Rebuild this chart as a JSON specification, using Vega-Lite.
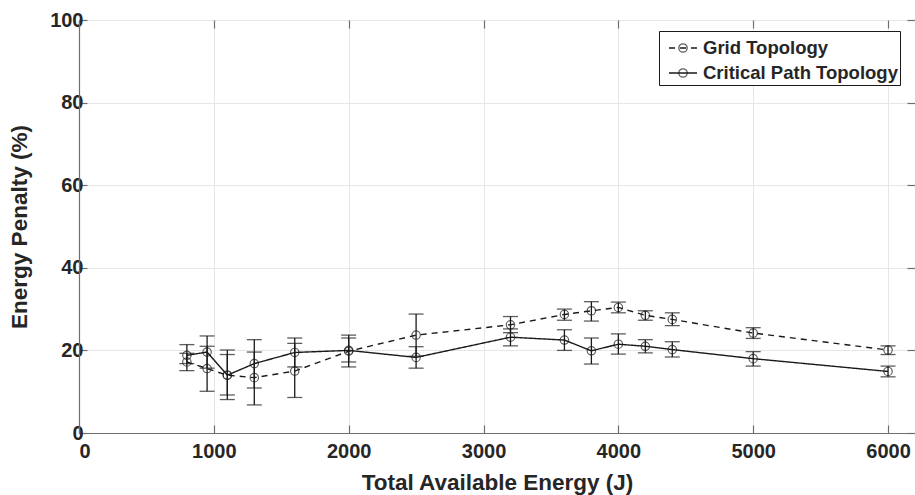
{
  "$schema": "https://vega.github.io/schema/vega-lite/v6.json",
  "width": 836,
  "height": 413,
  "autosize": {"type": "none"},
  "padding": {"left": 79, "top": 20, "right": 0, "bottom": 62},
  "background": "white",
  "config": {
    "view": {"stroke": "black", "strokeWidth": 1},
    "axis": {
      "labelFont": "Liberation Sans", "labelFontWeight": "bold", "labelFontSize": 20, "labelColor": "#262626",
      "titleFont": "Liberation Sans", "titleFontWeight": "bold", "titleFontSize": 22.5, "titleColor": "#262626",
      "gridColor": "#e6e6e6", "gridOpacity": 1, "domainColor": "#6e6e6e", "tickColor": "#6e6e6e",
      "tickSize": -8, "tickWidth": 1.2, "domainWidth": 1.2
    },
    "legend": {
      "labelFont": "Liberation Sans", "labelFontWeight": "bold", "labelFontSize": 18.5, "labelColor": "#262626"
    }
  },
  "data": {"values": [
    {"series": "Grid Topology", "x": 800, "y": 17.2, "lo": 15.1, "hi": 19.3},
    {"series": "Grid Topology", "x": 950, "y": 15.6, "lo": 10.1, "hi": 21.0},
    {"series": "Grid Topology", "x": 1100, "y": 14.0, "lo": 9.2, "hi": 19.0},
    {"series": "Grid Topology", "x": 1300, "y": 13.4, "lo": 6.8, "hi": 19.6},
    {"series": "Grid Topology", "x": 1600, "y": 15.0, "lo": 8.6, "hi": 21.7},
    {"series": "Grid Topology", "x": 2000, "y": 19.8, "lo": 16.0, "hi": 23.7},
    {"series": "Grid Topology", "x": 2500, "y": 23.7, "lo": 18.6, "hi": 28.8},
    {"series": "Grid Topology", "x": 3200, "y": 26.2, "lo": 24.3, "hi": 28.2},
    {"series": "Grid Topology", "x": 3600, "y": 28.7, "lo": 27.3, "hi": 30.0},
    {"series": "Grid Topology", "x": 3800, "y": 29.6, "lo": 27.1, "hi": 31.8},
    {"series": "Grid Topology", "x": 4000, "y": 30.4, "lo": 29.1, "hi": 31.7},
    {"series": "Grid Topology", "x": 4200, "y": 28.5, "lo": 27.3, "hi": 29.6},
    {"series": "Grid Topology", "x": 4400, "y": 27.5, "lo": 26.0, "hi": 29.1},
    {"series": "Grid Topology", "x": 5000, "y": 24.2, "lo": 22.9, "hi": 25.5},
    {"series": "Grid Topology", "x": 6000, "y": 20.1, "lo": 19.0, "hi": 21.1},
    {"series": "Critical Path Topology", "x": 800, "y": 18.8, "lo": 16.8, "hi": 21.4},
    {"series": "Critical Path Topology", "x": 950, "y": 19.6, "lo": 15.7, "hi": 23.5},
    {"series": "Critical Path Topology", "x": 1100, "y": 14.0, "lo": 8.1, "hi": 20.1},
    {"series": "Critical Path Topology", "x": 1300, "y": 16.8, "lo": 10.9, "hi": 22.6},
    {"series": "Critical Path Topology", "x": 1600, "y": 19.5, "lo": 16.0, "hi": 23.0},
    {"series": "Critical Path Topology", "x": 2000, "y": 20.0, "lo": 17.2, "hi": 23.0},
    {"series": "Critical Path Topology", "x": 2500, "y": 18.3, "lo": 15.7, "hi": 20.9},
    {"series": "Critical Path Topology", "x": 3200, "y": 23.2, "lo": 21.1, "hi": 25.2},
    {"series": "Critical Path Topology", "x": 3600, "y": 22.5, "lo": 20.0, "hi": 25.0},
    {"series": "Critical Path Topology", "x": 3800, "y": 19.9, "lo": 16.7, "hi": 23.0},
    {"series": "Critical Path Topology", "x": 4000, "y": 21.5, "lo": 19.1, "hi": 24.0},
    {"series": "Critical Path Topology", "x": 4200, "y": 21.0, "lo": 19.4, "hi": 22.6},
    {"series": "Critical Path Topology", "x": 4400, "y": 20.2, "lo": 18.4, "hi": 22.1},
    {"series": "Critical Path Topology", "x": 5000, "y": 18.0, "lo": 16.2, "hi": 19.7},
    {"series": "Critical Path Topology", "x": 6000, "y": 14.9, "lo": 13.6, "hi": 16.2}
  ]},
  "resolve": {"axis": {"x": "independent", "y": "independent"}},
  "layer": [
    {
      "mark": {"type": "rule", "color": "#1a1a1a", "strokeWidth": 1.3},
      "encoding": {
        "x": {"field": "x", "type": "quantitative", "scale": {"domain": [0, 6200], "nice": false, "zero": false},
          "axis": {"orient": "bottom", "values": [0, 1000, 2000, 3000, 4000, 5000, 6000], "format": "d", "labelPadding": 16, "title": "Total Available Energy (J)", "titlePadding": 10, "grid": true}},
        "y": {"field": "lo", "type": "quantitative", "scale": {"domain": [0, 100], "nice": false},
          "axis": {"orient": "left", "values": [0, 20, 40, 60, 80, 100], "labelPadding": 4, "title": "Energy Penalty (%)", "titlePadding": 18, "grid": true}},
        "y2": {"field": "hi"},
        "detail": {"field": "series"}
      }
    },
    {
      "mark": {"type": "tick", "orient": "horizontal", "color": "#1a1a1a", "size": 15, "thickness": 1.3},
      "encoding": {
        "x": {"field": "x", "type": "quantitative", "axis": {"orient": "top", "values": [0, 1000, 2000, 3000, 4000, 5000, 6000], "labels": false, "title": null, "grid": false, "domain": false}},
        "y": {"field": "lo", "type": "quantitative", "axis": {"orient": "right", "values": [0, 20, 40, 60, 80, 100], "labels": false, "title": null, "grid": false, "domain": false}}
      }
    },
    {
      "mark": {"type": "tick", "orient": "horizontal", "color": "#1a1a1a", "size": 15, "thickness": 1.3},
      "encoding": {
        "x": {"field": "x", "type": "quantitative", "axis": null},
        "y": {"field": "hi", "type": "quantitative", "axis": null}
      }
    },
    {
      "mark": {"type": "line", "color": "#1a1a1a", "strokeWidth": 1.4},
      "encoding": {
        "x": {"field": "x", "type": "quantitative", "axis": null},
        "y": {"field": "y", "type": "quantitative", "axis": null},
        "strokeDash": {"field": "series", "type": "nominal", "sort": "descending",
          "scale": {"range": [[6, 5], [1, 0]]},
          "legend": {"title": null, "orient": "none", "legendX": 580, "legendY": 11, "zindex": 1,
            "symbolType": "stroke",
            "symbolSize": 784, "symbolStrokeColor": "#1a1a1a", "symbolStrokeWidth": 1.3, "symbolOffset": 7,
            "rowPadding": -4, "labelOffset": 5, "padding": 2, "strokeColor": "#1a1a1a", "fillColor": "white",
            "labelLimit": 400}}
      }
    },
    {
      "mark": {"type": "point", "filled": false, "size": 784, "color": "#1a1a1a", "strokeWidth": 1.2},
      "encoding": {
        "x": {"field": "x", "type": "quantitative", "axis": null},
        "y": {"field": "y", "type": "quantitative", "axis": null},
        "shape": {"field": "series", "type": "nominal",
          "scale": {"domain": ["Grid Topology", "Critical Path Topology"], "range": ["M-0.3,0A0.3,0.3 0 1 1 0.3,0A0.3,0.3 0 1 1 -0.3,0", "M-0.3,0A0.3,0.3 0 1 1 0.3,0A0.3,0.3 0 1 1 -0.3,0"]},
          "legend": {"title": null, "orient": "none", "legendX": 580, "legendY": 11, "zindex": 2,
            "symbolSize": 784, "symbolStrokeColor": "#1a1a1a", "symbolStrokeWidth": 1.3, "symbolFillColor": "transparent",
            "symbolOffset": 7, "rowPadding": -4, "labelOffset": 5, "padding": 2, "labelExpr": "''",
            "labelLimit": 400}}
      }
    }
  ]
}
